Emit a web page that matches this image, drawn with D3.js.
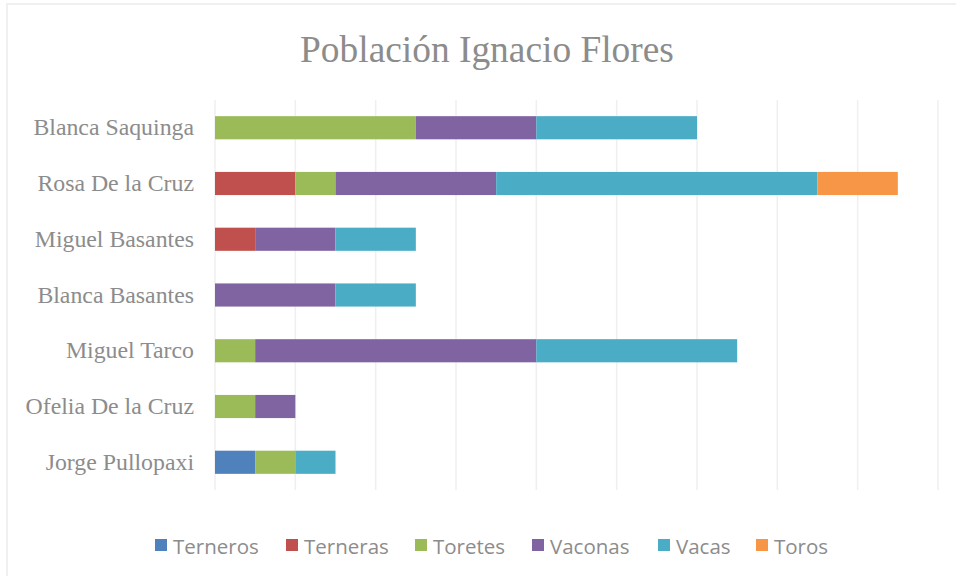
<!DOCTYPE html>
<html><head><meta charset="utf-8">
<script src="https://cdn.jsdelivr.net/npm/d3@7"></script>
<style>body{margin:0;background:#fff}svg{display:block}</style>
</head><body>
<svg id="chart" width="956" height="576"></svg>
<script>
const categories = ["Blanca Saquinga","Rosa De la Cruz","Miguel Basantes","Blanca Basantes","Miguel Tarco","Ofelia De la Cruz","Jorge Pullopaxi"];
const seriesNames = ["Terneros","Terneras","Toretes","Vaconas","Vacas","Toros"];
const terneros = [0,0,0,0,0,0,1];
const terneras = [0,2,1,0,0,0,0];
const toretes  = [5,1,0,0,1,1,1];
const vaconas  = [3,4,2,3,7,1,0];
const vacas    = [4,8,2,2,5,0,1];
const toros    = [0,2,0,0,0,0,0];
const colors = ["#4f81bd","#c0504d","#9bbb59","#8064a2","#4bacc6","#f79646"];
const xTicks = [0,2,4,6,8,10,12,14,16,18];

const seriesValues = [terneros,terneras,toretes,vaconas,vacas,toros];
const rows = categories.map((c,i)=>{const r={name:c};seriesNames.forEach((s,j)=>r[s]=seriesValues[j][i]);return r;});
const stacked = d3.stack().keys(seriesNames)(rows);

const svg = d3.select("#chart");
// outer border
svg.append("rect").attr("x",7).attr("y",4).attr("width",960).attr("height",600)
  .attr("fill","none").attr("stroke","#f0f0f0").attr("stroke-width",2);

const x = d3.scaleLinear().domain([0,18]).range([215,938]);
const y = d3.scaleBand().domain(categories).range([100,490]).paddingInner(0.585).paddingOuter(0.29);

// gridlines
svg.append("g").selectAll("line").data(xTicks).join("line")
  .attr("x1",d=>x(d)).attr("x2",d=>x(d)).attr("y1",100).attr("y2",490)
  .attr("stroke","#efefef").attr("stroke-width",1.5);

// bars
svg.append("g").selectAll("g").data(stacked).join("g")
  .attr("fill",(d,i)=>colors[i])
  .selectAll("rect").data(d=>d.filter(p=>p[1]>p[0])).join("rect")
  .attr("x",d=>x(d[0])).attr("width",d=>x(d[1])-x(d[0]))
  .attr("y",d=>y(d.data.name)).attr("height",y.bandwidth());

// y axis labels
const yAxis = svg.append("g").attr("transform","translate(215,0)")
  .call(d3.axisLeft(y).tickSize(0).tickPadding(21));
yAxis.select(".domain").remove();
yAxis.selectAll("text").attr("font-family","Liberation Serif, Times New Roman, serif")
  .attr("font-size",23.8).attr("fill","#8c8c8c");

// title
svg.append("text").attr("x",487).attr("y",62).attr("text-anchor","middle")
  .attr("font-family","Liberation Serif, Times New Roman, serif").attr("font-size",37.4)
  .attr("fill","#8c8c8c").text("Población Ignacio Flores");

// legend
const legendX = [155,286,415,532,658,756];
const lg = svg.append("g").selectAll("g").data(seriesNames).join("g")
  .attr("transform",(d,i)=>`translate(${legendX[i]},539)`);
lg.append("rect").attr("width",12).attr("height",12).attr("fill",(d,i)=>colors[i]);
lg.append("text").attr("x",18).attr("y",15).attr("font-family","Open Sans, Noto Sans, sans-serif")
  .attr("font-size",20.5).attr("fill","#8c8c8c").text(d=>d);
</script>
</body></html>
